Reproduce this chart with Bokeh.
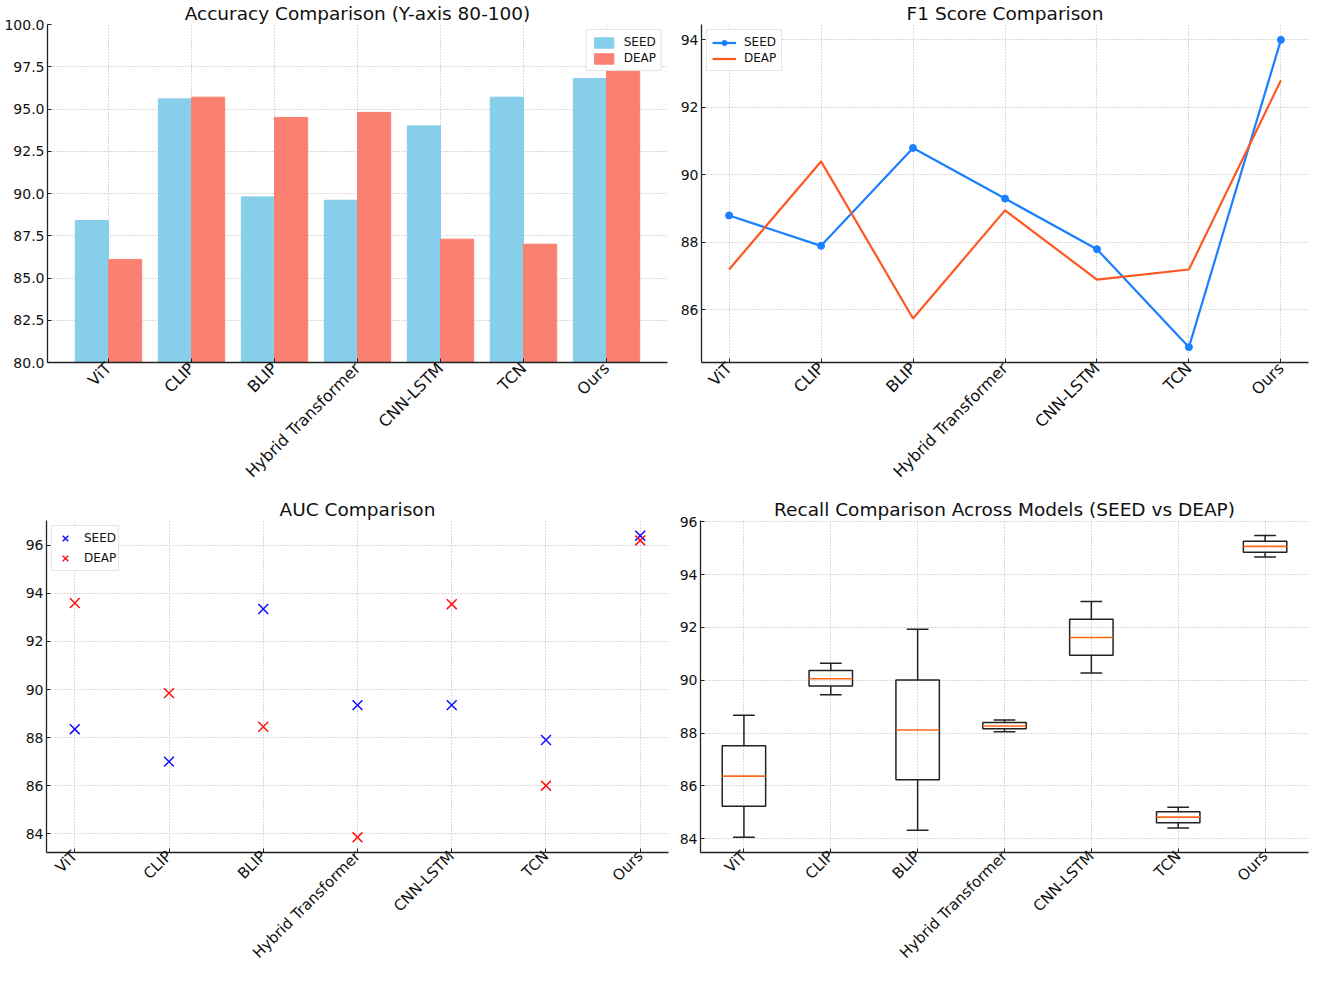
import math
from bokeh.plotting import figure
from bokeh.layouts import column, row
from bokeh.models import ColumnDataSource, FixedTicker, Range1d, NumeralTickFormatter
from bokeh.transform import dodge
from bokeh.embed import file_html
from bokeh.resources import INLINE

# ---------------- data ----------------
models = ["ViT", "CLIP", "BLIP", "Hybrid Transformer", "CNN-LSTM", "TCN", "Ours"]

acc_seed = [88.4, 95.6, 89.8, 89.6, 94.0, 95.7, 96.8]
acc_deap = [86.1, 95.7, 94.5, 94.8, 87.3, 87.0, 97.3]

f1_seed = [88.8, 87.9, 90.8, 89.3, 87.8, 84.9, 94.0]
f1_deap = [87.2, 90.4, 85.75, 88.95, 86.9, 87.2, 92.8]

auc_seed = [88.35, 87.0, 93.35, 89.35, 89.35, 87.9, 96.4]
auc_deap = [93.6, 89.85, 88.45, 83.85, 93.55, 86.0, 96.2]

recall_min = [84.06, 89.45, 84.32, 88.05, 90.28, 84.41, 94.67]
recall_q1 = [85.23, 89.78, 86.23, 88.17, 90.95, 84.61, 94.85]
recall_med = [86.37, 90.06, 88.12, 88.27, 91.62, 84.82, 95.07]
recall_q3 = [87.52, 90.37, 90.01, 88.40, 92.31, 85.02, 95.26]
recall_max = [88.68, 90.65, 91.93, 88.50, 92.98, 85.19, 95.48]

acc_ticks = [80.0, 82.5, 85.0, 87.5, 90.0, 92.5, 95.0, 97.5, 100.0]
f1_ticks = [86, 88, 90, 92, 94]
auc_ticks = [84, 86, 88, 90, 92, 94, 96]
recall_ticks = [84, 86, 88, 90, 92, 94, 96]

FONT = "DejaVu Sans"
idx = list(range(len(models)))


def make_fig(title, width, height, xr, yr, mbl, mbr, mbt, mbb, yticks, xfs, xstand):
    p = figure(width=width, height=height, x_range=Range1d(*xr), y_range=Range1d(*yr),
               output_backend="svg", toolbar_location=None,
               min_border_left=mbl, min_border_right=mbr, min_border_top=mbt,
               min_border_bottom=mbb)
    p.title.text = title
    p.title.align = "center"
    p.title.text_font = FONT
    p.title.text_font_size = "18.5px"
    p.title.text_font_style = "normal"
    p.title.text_color = "#111111"
    p.title.standoff = 1
    p.outline_line_color = None
    for ax in (p.xaxis[0], p.yaxis[0]):
        ax.major_tick_in = 4
        ax.major_tick_out = 0
        ax.minor_tick_in = 0
        ax.minor_tick_out = 0
        ax.axis_line_color = "#222222"
        ax.axis_line_width = 1.3
        ax.major_tick_line_color = "#222222"
        ax.major_label_text_font = FONT
        ax.major_label_text_color = "#111111"
        ax.major_label_standoff = 3
    p.xaxis.major_label_standoff = xstand
    p.xaxis.ticker = FixedTicker(ticks=idx)
    p.xaxis.major_label_overrides = {i: m for i, m in enumerate(models)}
    p.xaxis.major_label_orientation = math.pi / 4
    p.xaxis.major_label_text_font_size = xfs
    p.yaxis.major_label_text_font_size = "14px"
    p.yaxis.ticker = FixedTicker(ticks=yticks)
    for g in (p.xgrid[0], p.ygrid[0]):
        g.grid_line_color = "#b5b5b5"
        g.grid_line_dash = "1 2"
        g.grid_line_width = 1
    return p


def style_legend(p, loc, gw=24, gh=13):
    lg = p.legend[0]
    lg.location = loc
    lg.label_text_font = FONT
    lg.label_text_font_size = "12px"
    lg.label_text_color = "#111111"
    lg.border_line_color = "#cccccc"
    lg.background_fill_alpha = 0.85
    lg.margin = 5
    lg.padding = 5 if gh < 16 else 2
    lg.spacing = 2 if gh < 16 else 0
    lg.glyph_width = gw
    lg.glyph_height = gh
    lg.label_height = min(gh, 13)
    lg.label_standoff = 8


# ---------------- Accuracy (bars) ----------------
p1 = make_fig("Accuracy Comparison (Y-axis 80-100)", 673, 494, (-0.735, 6.735), (80, 100),
              47, 6, 24, 132, acc_ticks, "16px", 3)
p1.yaxis.formatter = NumeralTickFormatter(format="0.0")
src1 = ColumnDataSource(dict(x=idx, seed=acc_seed, deap=acc_deap))
p1.vbar(x=dodge("x", -0.2), top="seed", bottom=acc_ticks[0], width=0.4, source=src1,
        fill_color="#87CEEB", line_color="#87CEEB", legend_label="SEED")
p1.vbar(x=dodge("x", 0.2), top="deap", bottom=acc_ticks[0], width=0.4, source=src1,
        fill_color="#FA8072", line_color="#FA8072", legend_label="DEAP")
style_legend(p1, "top_right")

# ---------------- F1 (lines) ----------------
p2 = make_fig("F1 Score Comparison", 636, 494, (-0.3, 6.3), (84.445, 94.455),
              28, 1, 24, 132, f1_ticks, "16px", 3)
src2 = ColumnDataSource(dict(x=idx, seed=f1_seed, deap=f1_deap))
p2.line("x", "seed", source=src2, line_color="#1a80ff", line_width=2.2, legend_label="SEED")
p2.scatter("x", "seed", source=src2, size=7, fill_color="#1a80ff", line_color="#1a80ff",
           legend_label="SEED")
p2.line("x", "deap", source=src2, line_color="#ff5722", line_width=2.2, legend_label="DEAP")
style_legend(p2, "top_left")

# ---------------- AUC (x markers) ----------------
p3 = make_fig("AUC Comparison", 673, 477, (-0.3, 6.3), (83.22, 97.03),
              46, 5, 26, 112, auc_ticks, "15px", 1)
src3 = ColumnDataSource(dict(x=idx, seed=auc_seed, deap=auc_deap))
p3.scatter("x", "seed", source=src3, marker="x", size=14, line_color="#1010ff",
           line_width=1.5, legend_label="SEED")
p3.scatter("x", "deap", source=src3, marker="x", size=14, line_color="#ff1010",
           line_width=1.5, legend_label="DEAP")
style_legend(p3, "top_left", gw=22, gh=20)

# ---------------- Recall (box plot) ----------------
p4 = make_fig("Recall Comparison Across Models (SEED vs DEAP)", 636, 477, (-0.5, 6.5),
              (83.48, 96.05), 27, 1, 26, 112, recall_ticks, "15px", 1)
src4 = ColumnDataSource(dict(x=idx, lo=recall_min, q1=recall_q1, med=recall_med,
                             q3=recall_q3, hi=recall_max))
p4.segment(x0="x", y0="q3", x1="x", y1="hi", source=src4, line_color="#222222", line_width=1.5)
p4.segment(x0="x", y0="lo", x1="x", y1="q1", source=src4, line_color="#222222", line_width=1.5)
p4.segment(x0=dodge("x", -0.125), y0="hi", x1=dodge("x", 0.125), y1="hi", source=src4,
           line_color="#222222", line_width=1.5)
p4.segment(x0=dodge("x", -0.125), y0="lo", x1=dodge("x", 0.125), y1="lo", source=src4,
           line_color="#222222", line_width=1.5)
p4.vbar(x="x", width=0.5, bottom="q1", top="q3", source=src4, fill_color=None,
        line_color="#222222", line_width=1.5)
p4.segment(x0=dodge("x", -0.25), y0="med", x1=dodge("x", 0.25), y1="med", source=src4,
           line_color="#ff6a1a", line_width=1.6)

layout = column(row(p1, p2), row(p3, p4))
open("out.html", "w").write(file_html(layout, INLINE))
